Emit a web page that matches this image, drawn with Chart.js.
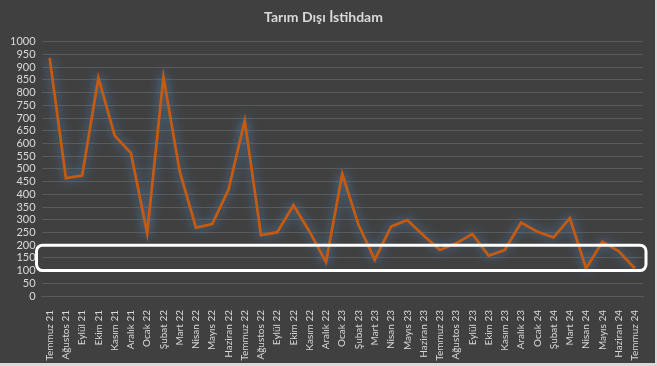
<!DOCTYPE html>
<html>
<head>
<meta charset="utf-8">
<script src="https://cdn.jsdelivr.net/npm/chart.js@4.4.1/dist/chart.umd.min.js"></script>
<style>
    html, body { margin: 0; padding: 0; background: #d9d9d9; }
    #wrap { width: 655px; height: 363px; background: #404040; position: relative; }
</style>
</head>
<body>
<div id="wrap"><canvas id="chart"></canvas></div>
<script>
// Tarım dışı istihdam (aylık değişim, bin kişi)
const months = [
    'Temmuz 21', 'Ağustos 21', 'Eylül 21', 'Ekim 21', 'Kasım 21', 'Aralık 21',
    'Ocak 22', 'Şubat 22', 'Mart 22', 'Nisan 22', 'Mayıs 22', 'Haziran 22',
    'Temmuz 22', 'Ağustos 22', 'Eylül 22', 'Ekim 22', 'Kasım 22', 'Aralık 22',
    'Ocak 23', 'Şubat 23', 'Mart 23', 'Nisan 23', 'Mayıs 23', 'Haziran 23',
    'Temmuz 23', 'Ağustos 23', 'Eylül 23', 'Ekim 23', 'Kasım 23', 'Aralık 23',
    'Ocak 24', 'Şubat 24', 'Mart 24', 'Nisan 24', 'Mayıs 24', 'Haziran 24',
    'Temmuz 24'
];
const employment = [
    937, 464, 474, 858, 631, 562,
    247, 861, 490, 269, 283, 418,
    690, 239, 251, 357, 252, 133,
    480, 280, 142, 273, 299, 238,
    181, 207, 244, 159, 181, 289,
    253, 231, 306, 108, 213, 177,
    108
];
const highlightBand = [100, 200];

// blue glow under the line
const glowPlugin = {
    id: 'glow',
    beforeDatasetsDraw(chart) {
        const ctx = chart.ctx;
        ctx.save();
        ctx.shadowColor = 'rgba(80, 140, 200, 0.95)';
        ctx.shadowBlur = 11;
    },
    afterDatasetsDraw(chart) {
        chart.ctx.restore();
    }
};

// white rounded box around the 100-200 band
const bandPlugin = {
    id: 'band',
    afterDatasetsDraw(chart) {
        const { ctx, chartArea, scales } = chart;
        const top = scales.y.getPixelForValue(highlightBand[1]);
        const bottom = scales.y.getPixelForValue(highlightBand[0]);
        const left = chartArea.left - 5;
        const right = chartArea.right + 3;
        ctx.save();
        ctx.strokeStyle = '#ffffff';
        ctx.lineWidth = 3;
        ctx.beginPath();
        ctx.roundRect(left, top, right - left, bottom - top, 6);
        ctx.stroke();
        ctx.restore();
    }
};

new Chart(document.getElementById('chart'), {
    type: 'line',
    data: {
        labels: months,
        datasets: [{
            data: employment,
            borderColor: '#c55a11',
            borderWidth: 2.75,
            pointRadius: 0,
            tension: 0,
            fill: false
        }]
    },
    plugins: [glowPlugin, bandPlugin],
    options: {
        responsive: true,
        maintainAspectRatio: false,
        animation: false,
        layout: { padding: { left: 4, right: 12, top: 0, bottom: 0 } },
        plugins: {
            legend: { display: false },
            tooltip: { enabled: false },
            title: {
                display: true,
                text: 'Tarım Dışı İstihdam',
                color: '#d9d9d9',
                font: { family: 'Lato', size: 14, weight: 'bold' },
                padding: { top: 9, bottom: 16 }
            }
        },
        scales: {
            x: {
                offset: true,
                grid: { display: false },
                border: { color: '#595959' },
                afterFit: scale => { scale.height = 67; },
                ticks: {
                    color: '#d9d9d9',
                    font: { family: 'Lato', size: 10 },
                    minRotation: 90,
                    maxRotation: 90,
                    autoSkip: false,
                    padding: 6
                }
            },
            y: {
                min: 0,
                max: 1000,
                grid: { color: '#595959', drawTicks: false },
                border: { display: false },
                ticks: {
                    stepSize: 50,
                    autoSkip: false,
                    color: '#d9d9d9',
                    font: { family: 'Lato', size: 11 },
                    padding: 6,
                    callback: v => String(v)
                }
            }
        }
    }
});
</script>
</body>
</html>
